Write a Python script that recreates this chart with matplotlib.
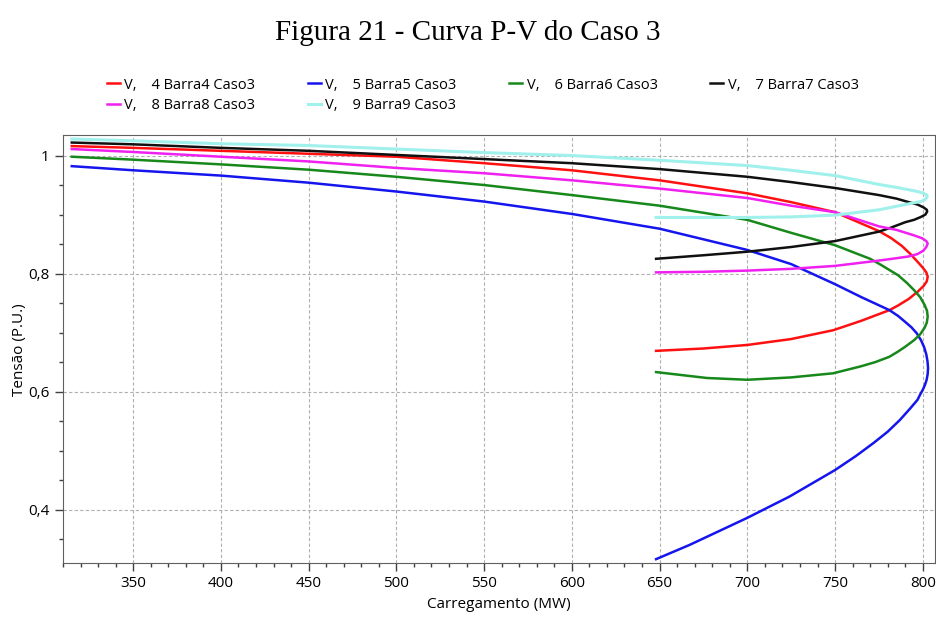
import numpy as np
import matplotlib.pyplot as plt
from matplotlib.ticker import MultipleLocator, FixedLocator

plt.rcParams['font.family'] = ['Open Sans', 'DejaVu Sans']

# curves: MW along the upper branch, round the nose, back along the lower branch
p4 = [315, 350, 400, 450, 500, 550, 600, 650, 700, 725, 750, 775, 782, 788, 793, 797, 800, 802, 802.8,
      802.3, 800.5, 797, 792, 786, 781, 765, 749, 725, 700, 675, 648]
v4 = [1.016, 1.013, 1.008, 1.003, 0.998, 0.987, 0.975, 0.958, 0.936, 0.921, 0.904, 0.872, 0.860, 0.847, 0.833, 0.820, 0.810, 0.802, 0.795,
      0.787, 0.779, 0.769, 0.757, 0.746, 0.738, 0.720, 0.704, 0.689, 0.679, 0.673, 0.669]

p5 = [315, 350, 400, 450, 500, 550, 600, 650, 700, 725, 750, 765, 781, 786, 790, 793.5, 796.5, 799, 800.8, 802, 802.7, 803,
      802.8, 802.2, 801.2, 800, 798.5, 797, 793, 787, 780, 772, 762, 750, 724, 700, 667, 648]
v5 = [0.982, 0.975, 0.966, 0.954, 0.939, 0.922, 0.901, 0.876, 0.840, 0.816, 0.782, 0.760, 0.738, 0.728, 0.718, 0.709, 0.699, 0.687, 0.675, 0.663, 0.651, 0.640,
      0.630, 0.620, 0.611, 0.603, 0.595, 0.586, 0.572, 0.552, 0.532, 0.513, 0.491, 0.467, 0.422, 0.386, 0.340, 0.316]

p6 = [315, 350, 400, 450, 500, 550, 600, 650, 700, 725, 750, 770, 776, 781, 786, 791, 795, 798.5, 801, 802.4, 802.8,
      802.3, 801, 798.5, 795, 790, 786, 781, 773, 765, 749, 725, 700, 677, 648]
v6 = [0.998, 0.993, 0.985, 0.976, 0.964, 0.950, 0.933, 0.915, 0.891, 0.869, 0.848, 0.825, 0.815, 0.806, 0.797, 0.784, 0.772, 0.760, 0.747, 0.737, 0.727,
      0.717, 0.708, 0.697, 0.687, 0.676, 0.668, 0.659, 0.650, 0.643, 0.631, 0.624, 0.620, 0.623, 0.633]

p7 = [315, 350, 400, 450, 500, 550, 600, 650, 700, 725, 750, 775, 785, 792, 797, 800.5, 802.3, 802.5,
      801.5, 799, 795, 790, 782, 775, 750, 725, 700, 675, 648]
v7 = [1.022, 1.019, 1.013, 1.008, 1.001, 0.994, 0.987, 0.977, 0.964, 0.955, 0.945, 0.933, 0.927, 0.921, 0.917, 0.912, 0.908, 0.905,
      0.900, 0.896, 0.891, 0.887, 0.878, 0.871, 0.855, 0.845, 0.837, 0.831, 0.825]

p8 = [315, 350, 400, 450, 500, 550, 600, 650, 700, 725, 750, 775, 785, 794.7, 799.5, 802, 802.8,
      802, 800.4, 797, 792, 785, 775, 750, 725, 700, 675, 648]
v8 = [1.011, 1.006, 0.998, 0.990, 0.979, 0.970, 0.958, 0.944, 0.928, 0.915, 0.904, 0.880, 0.874, 0.865, 0.860, 0.855, 0.851,
      0.845, 0.839, 0.833, 0.829, 0.826, 0.822, 0.813, 0.808, 0.805, 0.803, 0.802]

p9 = [315, 350, 400, 450, 500, 550, 600, 650, 700, 725, 750, 775, 785, 792, 797, 800.5, 802.3, 802.5,
      801.5, 799, 795, 790, 775, 750, 725, 700, 648]
v9 = [1.028, 1.025, 1.020, 1.017, 1.011, 1.005, 1.000, 0.992, 0.983, 0.975, 0.966, 0.951, 0.946, 0.942, 0.939, 0.936, 0.933, 0.930,
      0.926, 0.922, 0.920, 0.917, 0.908, 0.899, 0.896, 0.895, 0.895]

labels = ["V,    4 Barra4 Caso3", "V,    5 Barra5 Caso3", "V,    6 Barra6 Caso3",
          "V,    7 Barra7 Caso3", "V,    8 Barra8 Caso3", "V,    9 Barra9 Caso3"]
colors = ['#ff1010', '#1515ee', '#17881a', '#101010', '#f020f0', '#a0f0ec']
widths = [1.8, 1.8, 1.8, 1.8, 1.8, 2.2]

xticks = [350, 400, 450, 500, 550, 600, 650, 700, 750, 800]
yticks = [0.4, 0.6, 0.8, 1.0]
ytick_labels = ["0,4", "0,6", "0,8", "1"]

fig = plt.figure(figsize=(9.36, 6.24), dpi=100)
ax = fig.add_axes([0.0673, 0.0973, 0.9317, 0.6856])

lines = []
for p, v, c, w, lab in zip([p4, p5, p6, p7, p8, p9], [v4, v5, v6, v7, v8, v9], colors, widths, labels):
    ln, = ax.plot(p, v, color=c, lw=w, label=lab, solid_joinstyle='round')
    lines.append(ln)

ax.set_xlim(310, 807)
ax.set_ylim(0.309, 1.034)
ax.xaxis.set_major_locator(FixedLocator(xticks))
ax.xaxis.set_minor_locator(MultipleLocator(10))
ax.yaxis.set_major_locator(FixedLocator(yticks))
ax.set_yticklabels(ytick_labels)
ax.yaxis.set_minor_locator(MultipleLocator(0.05))
ax.tick_params(which='major', length=6, width=1, color='#404040', labelsize=11)
ax.tick_params(which='minor', length=3, width=1, color='#404040')
ax.grid(True, which='major', ls=(0, (3, 2)), color='#b0b0b0', lw=0.8)
for s in ax.spines.values():
    s.set_color('#606060')

ax.set_xlabel("Carregamento (MW)", fontsize=11, labelpad=4)
ax.set_ylabel("Tensão (P.U.)", fontsize=11, labelpad=1)

fig.suptitle("Figura 21 - Curva P-V do Caso 3", y=0.968, fontsize=21, family='Liberation Serif')

# legend filled row by row: 4 5 6 7 / 8 9
order = [0, 4, 1, 5, 2, 3]
fig.legend([lines[i] for i in order], [labels[i] for i in order],
           loc='upper left', bbox_to_anchor=(0.108, 0.885), ncol=4, frameon=False,
           fontsize=10.5, handlelength=0.9, handletextpad=0.3, columnspacing=3.6,
           labelspacing=0.35, borderaxespad=0)

fig.savefig("out.png", dpi=100)
